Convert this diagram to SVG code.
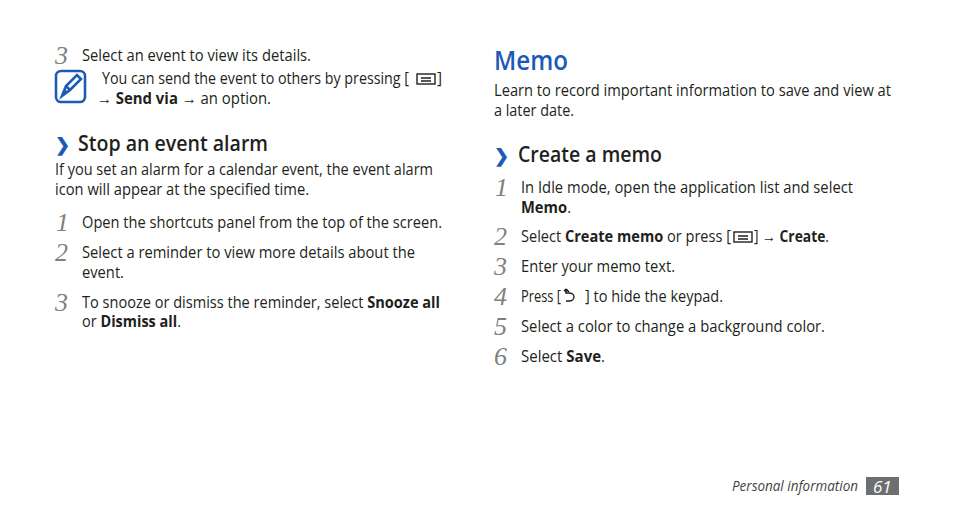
<svg xmlns="http://www.w3.org/2000/svg" width="954" height="518" viewBox="0 0 954 518">
<style>
.t{font-family:"Open Sans","Noto Sans",sans-serif;font-size:15.5px;fill:#231f20}
.b{font-weight:bold}
.n{font-family:"Liberation Serif",serif;font-style:italic;font-size:26px;fill:#808080}
.h{font-family:"Open Sans","Noto Sans",sans-serif;font-size:21px;font-weight:600;fill:#231f20}
.c{font-family:"Open Sans","Noto Sans",sans-serif;font-size:18px;font-weight:bold;fill:#1c5bb5}
.ic{fill:none;stroke:#231f20;stroke-width:1.4}
</style>
<rect width="954" height="518" fill="#fff"/>
<g id="left">
<text class="n" x="55" y="64">3</text>
<text class="t" x="82" y="61" textLength="229" lengthAdjust="spacingAndGlyphs">Select an event to view its details.</text>
<g id="noteicon" fill="none" stroke="#1c5bb5" stroke-width="2.6">
<rect x="56" y="71" width="29" height="31" rx="5"/>
<path d="M62 96 L66 86 L77 75 L81 79 L70 90 Z M66 86 L70 90 M62 96 L67 91"/>
</g>
<text class="t" x="102" y="84" textLength="307" lengthAdjust="spacingAndGlyphs">You can send the event to others by pressing [</text>
<g class="ic"><rect x="417" y="74" width="18" height="10"/><path d="M421 78h10M421 81h10"/></g>
<text class="t" x="437" y="84">]</text>
<text class="t" x="97" y="104" textLength="174" lengthAdjust="spacingAndGlyphs">→ <tspan class="b">Send via</tspan> → an option.</text>
<text class="c" x="55" y="151">❯</text>
<text class="h" x="78" y="151" textLength="190" lengthAdjust="spacingAndGlyphs">Stop an event alarm</text>
<text class="t" x="55" y="175" textLength="378" lengthAdjust="spacingAndGlyphs">If you set an alarm for a calendar event, the event alarm</text>
<text class="t" x="55" y="195" textLength="254" lengthAdjust="spacingAndGlyphs">icon will appear at the specified time.</text>
<text class="n" x="56" y="231">1</text>
<text class="t" x="82" y="228" textLength="360" lengthAdjust="spacingAndGlyphs">Open the shortcuts panel from the top of the screen.</text>
<text class="n" x="55" y="261">2</text>
<text class="t" x="82" y="258" textLength="333" lengthAdjust="spacingAndGlyphs">Select a reminder to view more details about the</text>
<text class="t" x="82" y="278" textLength="42" lengthAdjust="spacingAndGlyphs">event.</text>
<text class="n" x="55" y="311">3</text>
<text class="t" x="82" y="308" textLength="358" lengthAdjust="spacingAndGlyphs">To snooze or dismiss the reminder, select <tspan class="b">Snooze all</tspan></text>
<text class="t" x="82" y="327" textLength="99" lengthAdjust="spacingAndGlyphs">or <tspan class="b">Dismiss all</tspan>.</text>
</g>
<g id="right">
<text x="494" y="70" font-family="Open Sans,Noto Sans,sans-serif" font-size="27" font-weight="600" fill="#1c5bb5" textLength="74" lengthAdjust="spacingAndGlyphs">Memo</text>
<text class="t" x="494" y="96" textLength="397" lengthAdjust="spacingAndGlyphs">Learn to record important information to save and view at</text>
<text class="t" x="494" y="116" textLength="80" lengthAdjust="spacingAndGlyphs">a later date.</text>
<text class="c" x="494" y="162">❯</text>
<text class="h" x="518" y="162" textLength="144" lengthAdjust="spacingAndGlyphs">Create a memo</text>
<text class="n" x="495" y="196">1</text>
<text class="t" x="521" y="193" textLength="332" lengthAdjust="spacingAndGlyphs">In Idle mode, open the application list and select</text>
<text class="t" x="521" y="213" textLength="50" lengthAdjust="spacingAndGlyphs"><tspan class="b">Memo</tspan>.</text>
<text class="n" x="494" y="245">2</text>
<text class="t" x="521" y="242" textLength="210" lengthAdjust="spacingAndGlyphs">Select <tspan class="b">Create memo</tspan> or press [</text>
<g class="ic"><rect x="734" y="232" width="18" height="10"/><path d="M738 236h10M738 239h10"/></g>
<text class="t" x="754" y="242" textLength="75" lengthAdjust="spacingAndGlyphs">] → <tspan class="b">Create</tspan>.</text>
<text class="n" x="494" y="275">3</text>
<text class="t" x="521" y="272" textLength="154" lengthAdjust="spacingAndGlyphs">Enter your memo text.</text>
<text class="n" x="494" y="305">4</text>
<text class="t" x="521" y="302" textLength="40" lengthAdjust="spacingAndGlyphs">Press [</text>
<g class="ic"><path d="M566 289v4h3a5 4 0 0 1 0 8h-3M566 289l-2 2M566 289l2 2"/><path d="M565 292l2-2 2 2"/></g>
<text class="t" x="585" y="302" textLength="138" lengthAdjust="spacingAndGlyphs">] to hide the keypad.</text>
<text class="n" x="494" y="335">5</text>
<text class="t" x="521" y="332" textLength="304" lengthAdjust="spacingAndGlyphs">Select a color to change a background color.</text>
<text class="n" x="494" y="365">6</text>
<text class="t" x="521" y="362" textLength="84" lengthAdjust="spacingAndGlyphs">Select <tspan class="b">Save</tspan>.</text>
</g>
<g id="footer">
<text x="732" y="491" font-family="Open Sans,Noto Sans,sans-serif" font-style="italic" font-size="15" fill="#444" textLength="126" lengthAdjust="spacingAndGlyphs">Personal information</text>
<rect x="866" y="477" width="33" height="18" fill="#6d6e71"/>
<text x="873" y="493" font-family="Open Sans,Noto Sans,sans-serif" font-style="italic" font-size="17" fill="#fff">61</text>
</g>
</svg>
